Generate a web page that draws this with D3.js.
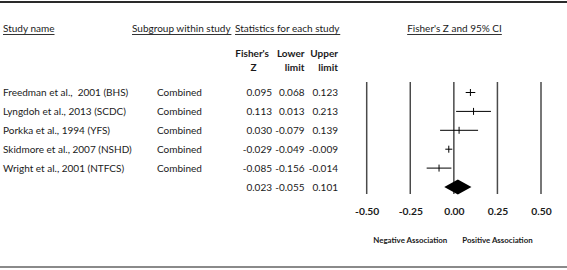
<!DOCTYPE html>
<html><head><meta charset="utf-8">
<script src="https://cdn.jsdelivr.net/npm/d3@7"></script>
<style>
html,body{margin:0;padding:0;background:#fff;}
svg{display:block;}
text{font-family:Lato,"Open Sans",sans-serif;fill:#1a1a1a;}
</style></head>
<body>
<script>
const studies = ["Freedman et al.,  2001 (BHS)", "Lyngdoh et al., 2013 (SCDC)", "Porkka et al., 1994 (YFS)", "Skidmore et al., 2007 (NSHD)", "Wright et al., 2001 (NTFCS)"];
const subgroups = ["Combined", "Combined", "Combined", "Combined", "Combined"];
const fisherZ = [0.095, 0.113, 0.030, -0.029, -0.085];
const lowerLimit = [0.068, 0.013, -0.079, -0.049, -0.156];
const upperLimit = [0.123, 0.213, 0.139, -0.009, -0.014];
const summaryZ = 0.023, summaryLower = -0.055, summaryUpper = 0.101;
const tickValues = [-0.50, -0.25, 0.00, 0.25, 0.50];
const sideLabels = ["Negative Association", "Positive Association"];
const sideLabelAt = [-0.25, 0.25];

const W = 567, H = 270;
const svg = d3.select("body").append("svg").attr("width", W).attr("height", H);

const loc = d3.formatLocale({decimal: ".", thousands: ",", grouping: [3], currency: ["", ""], minus: "-"});
const fmt = loc.format(".3f");
const fmt2 = loc.format(".2f");

const rows = studies.map((s, i) => ({study: s, sub: subgroups[i], z: fisherZ[i], lo: lowerLimit[i], hi: upperLimit[i]}));
const x = d3.scaleLinear().domain([-0.5, 0.5]).range([366.7, 541]);
const y = d3.scalePoint().domain(d3.range(rows.length + 1)).range([92.5, 187]);

// frame lines
svg.append("line").attr("x1", 0).attr("x2", W).attr("y1", 2).attr("y2", 2).attr("stroke", "#2a2a2a").attr("stroke-width", 2);
svg.append("line").attr("x1", 0).attr("x2", W).attr("y1", 267).attr("y2", 267).attr("stroke", "#8a8a8a").attr("stroke-width", 2);

// headers (underlined)
const fs = 10;
function header(txt, xpos, anchor) {
  const t = svg.append("text").attr("x", xpos).attr("y", 32).attr("font-size", fs).attr("text-anchor", anchor).text(txt);
  const bb = t.node().getBBox();
  svg.append("line").attr("x1", bb.x).attr("x2", bb.x + bb.width).attr("y1", 34.5).attr("y2", 34.5).attr("stroke", "#333").attr("stroke-width", 1);
}
header("Study name", 3, "start");
header("Subgroup within study", 132, "start");
header("Statistics for each study", 235, "start");
header("Fisher's Z and 95% CI", 454.5, "middle");

// column headers (bold)
const colRight = [272, 304.5, 338];
const colHdr = [["Fisher's", "Z"], ["Lower", "limit"], ["Upper", "limit"]];
colHdr.forEach((h, i) => {
  svg.append("text").attr("x", i === 0 ? 269 : colRight[i]).attr("y", 57).attr("font-size", fs).attr("font-weight", "bold").attr("text-anchor", "end").text(h[0]);
  if (i === 0) svg.append("text").attr("x", 253.5).attr("y", 71).attr("font-size", fs).attr("font-weight", "bold").attr("text-anchor", "middle").text(h[1]);
  else svg.append("text").attr("x", colRight[i]).attr("y", 71).attr("font-size", fs).attr("font-weight", "bold").attr("text-anchor", "end").text(h[1]);
});

// rows
const g = svg.append("g");
rows.forEach((r, i) => {
  const yy = y(i) + 3.5;
  g.append("text").attr("x", 3).attr("y", yy).attr("font-size", fs).style("white-space", "pre").text(r.study);
  g.append("text").attr("x", 157).attr("y", yy).attr("font-size", fs).text(r.sub);
  [r.z, r.lo, r.hi].forEach((v, j) => {
    g.append("text").attr("x", colRight[j]).attr("y", yy).attr("font-size", fs).attr("text-anchor", "end").text(fmt(v));
  });
});
const ys = y(rows.length) + 3.5;
[summaryZ, summaryLower, summaryUpper].forEach((v, j) => {
  g.append("text").attr("x", colRight[j]).attr("y", ys).attr("font-size", fs).attr("text-anchor", "end").text(fmt(v));
});

// grid lines
svg.append("g").selectAll("line").data(tickValues).join("line")
  .attr("x1", d => x(d)).attr("x2", d => x(d)).attr("y1", 82).attr("y2", 194)
  .attr("stroke", "#4a4a4a").attr("stroke-width", 1.5);

// CI lines and point ticks
const ci = svg.append("g");
rows.forEach((r, i) => {
  ci.append("line").attr("x1", x(r.lo)).attr("x2", x(r.hi)).attr("y1", y(i)).attr("y2", y(i)).attr("stroke", "#000").attr("stroke-width", 1);
  ci.append("line").attr("x1", x(r.z)).attr("x2", x(r.z)).attr("y1", y(i) - 3.5).attr("y2", y(i) + 3.5).attr("stroke", "#000").attr("stroke-width", 1);
});
// summary diamond
const yd = y(rows.length);
svg.append("path")
  .attr("d", `M${x(summaryLower)},${yd} L${x(summaryZ)},${yd - 7.5} L${x(summaryUpper)},${yd} L${x(summaryZ)},${yd + 7.5} Z`)
  .attr("fill", "#000");

// axis labels
const axis = d3.axisBottom(x).tickValues(tickValues).tickFormat(fmt2).tickSize(0);
const ag = svg.append("g").attr("transform", "translate(0,205)").call(axis);
ag.select(".domain").remove();
ag.selectAll("text").attr("font-size", 10.3).attr("font-weight", "bold").attr("font-family", "Lato, sans-serif").attr("fill", "#1a1a1a").attr("dy", "0.71em").attr("y", 3);

// side labels
svg.append("g").selectAll("text").data(sideLabels).join("text")
  .attr("x", (d, i) => x(sideLabelAt[i])).attr("y", 243).attr("text-anchor", "middle")
  .attr("font-size", 7.9).attr("font-weight", "bold").text(d => d);
</script>
</body></html>
